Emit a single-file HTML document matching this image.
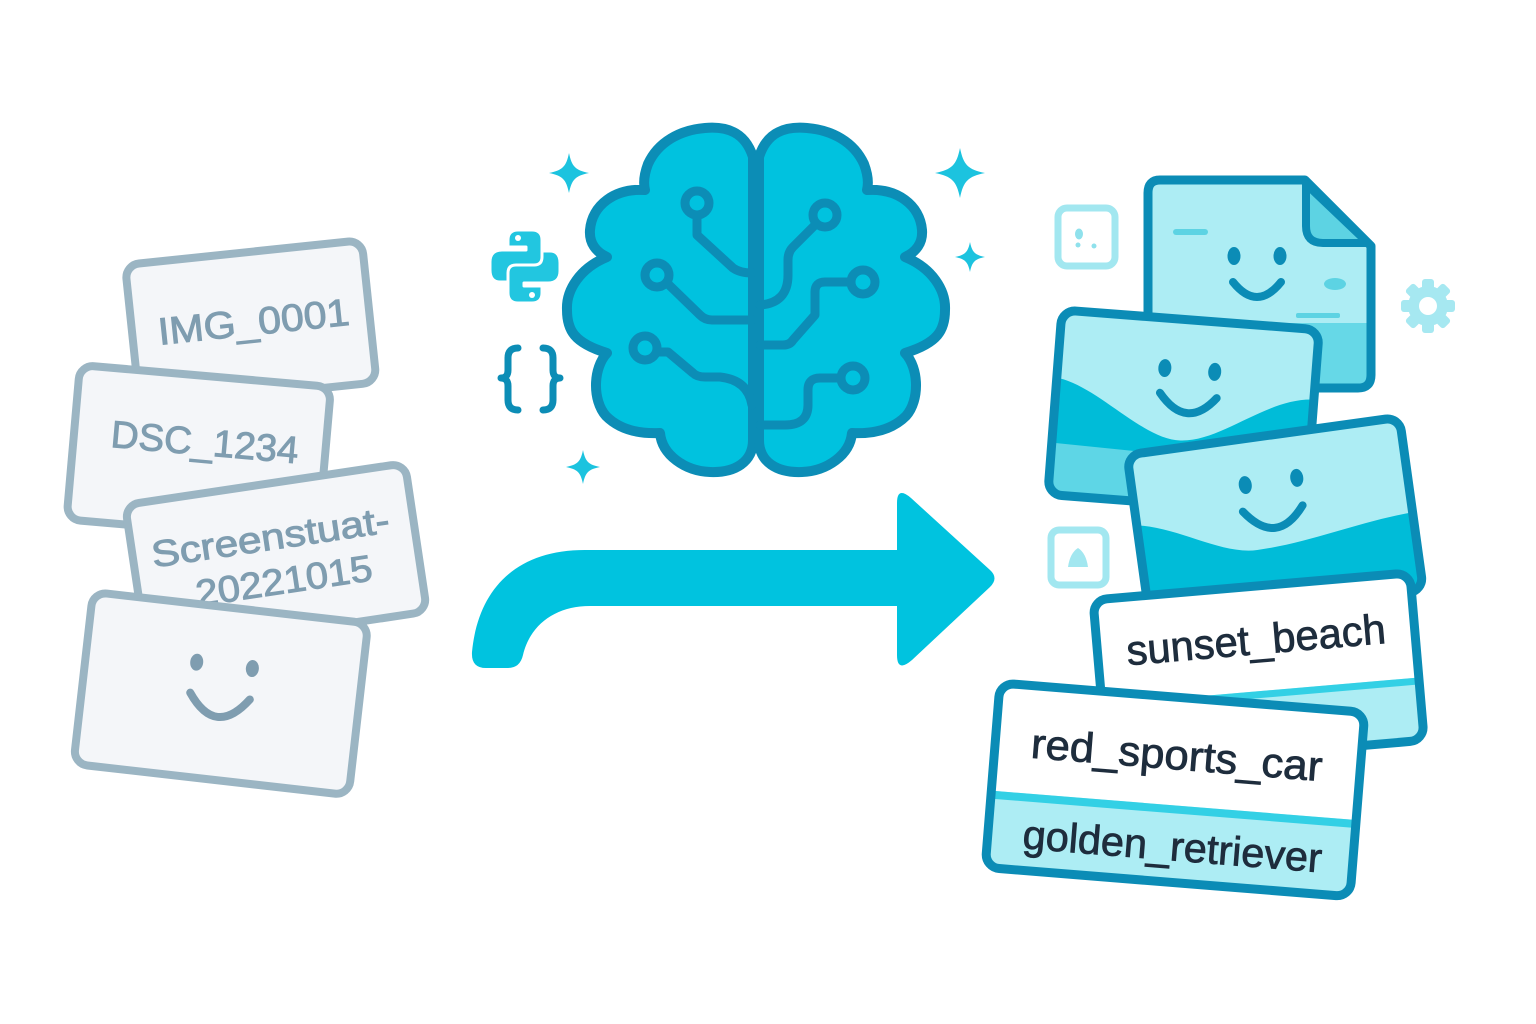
<!DOCTYPE html>
<html><head><meta charset="utf-8"><style>
html,body{margin:0;padding:0;background:#fff;}
svg{display:block;}
text{font-family:"Liberation Sans","DejaVu Sans",sans-serif;}
</style></head><body>
<svg width="1536" height="1024" viewBox="0 0 1536 1024" xmlns="http://www.w3.org/2000/svg">
<rect width="1536" height="1024" fill="#ffffff"/>

<!-- LEFT CARDS -->
<g stroke="#9bb5c3" stroke-width="8" fill="#f4f6f9">
  <g transform="translate(125,265) rotate(-6)">
    <rect x="0" y="0" width="238" height="143" rx="14"/>
    <text x="122" y="83" font-size="38" text-anchor="middle" fill="#7f9db0" stroke="#7f9db0" stroke-width="1" textLength="192" lengthAdjust="spacingAndGlyphs">IMG_0001</text>
  </g>
  <g transform="translate(80,365) rotate(5)">
    <rect x="0" y="0" width="252" height="155" rx="14"/>
    <text x="131" y="79" font-size="38" text-anchor="middle" fill="#7f9db0" stroke="#7f9db0" stroke-width="1" textLength="188" lengthAdjust="spacingAndGlyphs">DSC_1234</text>
  </g>
  <g transform="translate(125,505) rotate(-8.5)">
    <rect x="0" y="0" width="283" height="150" rx="14"/>
    <text x="139" y="66" font-size="37" text-anchor="middle" fill="#7f9db0" stroke="#7f9db0" stroke-width="1" textLength="240" lengthAdjust="spacingAndGlyphs">Screenstuat-</text>
    <text x="146" y="111" font-size="37" text-anchor="middle" fill="#7f9db0" stroke="#7f9db0" stroke-width="1" textLength="178" lengthAdjust="spacingAndGlyphs">20221015</text>
  </g>
  <g transform="translate(93,592) rotate(6.5)">
    <rect x="0" y="0" width="277" height="173" rx="14"/>
    <ellipse cx="111" cy="58" rx="6.5" ry="8.5" fill="#7f9db0" stroke="none"/>
    <ellipse cx="167" cy="58" rx="6.5" ry="8.5" fill="#7f9db0" stroke="none"/>
    <path d="M108,89 Q138,131 168,89" fill="none" stroke="#7f9db0" stroke-width="8" stroke-linecap="round"/>
  </g>
</g>

<!-- ARROW -->
<path d="M585,550 H897 V503 Q897,486 911,498 L990,570 Q999,578 990,587 L912,660 Q897,673 897,655 V606 H590 C555,606 530,625 523,655 Q520,668 508,668 H486 Q471,668 472,652 C478,590 515,550 585,550 Z" fill="#00c3df"/>

<!-- BRAIN -->
<g fill="#00c2df" stroke="#0c8db6" stroke-width="10" stroke-linejoin="round">
  <path d="M753,157 C745,132 727,126 705,128 C680,130 658,142 648,164 C645,172 643,182 645,190 C615,188 592,205 590,230 C589,243 596,252 607,257 C580,268 566,290 567,310 C567,330 574,343 607,353 C593,368 592,400 606,416 C620,430 640,434 660,433 C662,455 685,471 710,472 C735,473 753,462 753,440 Z"/>
  <path transform="translate(1512,0) scale(-1,1)" d="M753,157 C745,132 727,126 705,128 C680,130 658,142 648,164 C645,172 643,182 645,190 C615,188 592,205 590,230 C589,243 596,252 607,257 C580,268 566,290 567,310 C567,330 574,343 607,353 C593,368 592,400 606,416 C620,430 640,434 660,433 C662,455 685,471 710,472 C735,473 753,462 753,440 Z"/>
</g>
<g fill="none" stroke="#0c8db6" stroke-width="9" stroke-linecap="round" stroke-linejoin="round">
  <path d="M697,215 V235 L733,268 Q740,273 752,273"/>
  <path d="M667,283 L700,315 Q705,320 712,320 H752"/>
  <path d="M657,352 H668 L693,373 Q697,377 705,377 H720 Q748,380 752,405"/>
  <path d="M816,224 L793,247 Q788,252 788,260 V275 Q788,303 760,305"/>
  <path d="M851,282 H825 Q815,282 815,292 V315 L793,340 Q790,345 783,345 H760"/>
  <path d="M841,378 H820 Q808,378 808,390 V405 Q808,425 785,425 H760"/>
</g>
<g fill="#00c2df" stroke="#0c8db6" stroke-width="9">
  <circle cx="697" cy="203" r="12"/>
  <circle cx="657" cy="275" r="12"/>
  <circle cx="645" cy="348" r="12"/>
  <circle cx="825" cy="215" r="12"/>
  <circle cx="863" cy="282" r="12"/>
  <circle cx="853" cy="378" r="12"/>
</g>

<!-- SPARKLES -->
<g fill="#1cc3df">
  <path transform="translate(569,173) scale(20)" d="M0,-1 C0.14,-0.32 0.32,-0.14 1,0 C0.32,0.14 0.14,0.32 0,1 C-0.14,0.32 -0.32,0.14 -1,0 C-0.32,-0.14 -0.14,-0.32 0,-1Z"/>
  <path transform="translate(960,173) scale(25)" d="M0,-1 C0.14,-0.32 0.32,-0.14 1,0 C0.32,0.14 0.14,0.32 0,1 C-0.14,0.32 -0.32,0.14 -1,0 C-0.32,-0.14 -0.14,-0.32 0,-1Z"/>
  <path transform="translate(970,257) scale(15)" d="M0,-1 C0.14,-0.32 0.32,-0.14 1,0 C0.32,0.14 0.14,0.32 0,1 C-0.14,0.32 -0.32,0.14 -1,0 C-0.32,-0.14 -0.14,-0.32 0,-1Z"/>
  <path transform="translate(583,467) scale(17)" d="M0,-1 C0.14,-0.32 0.32,-0.14 1,0 C0.32,0.14 0.14,0.32 0,1 C-0.14,0.32 -0.32,0.14 -1,0 C-0.32,-0.14 -0.14,-0.32 0,-1Z"/>
</g>

<!-- PYTHON LOGO -->
<g transform="translate(490,230)" fill="#22c6e0" stroke="#ffffff" stroke-width="3" stroke-linejoin="round">
  <path d="M28,0 H42 Q52,0 52,10 V30 Q52,38 44,38 H26 Q18,38 18,46 V52 H10 Q0,52 0,40 V32 Q0,20 12,20 H36 V17 H18 V10 Q18,0 28,0 Z"/>
  <path transform="rotate(180 35 36.5)" d="M28,0 H42 Q52,0 52,10 V30 Q52,38 44,38 H26 Q18,38 18,46 V52 H10 Q0,52 0,40 V32 Q0,20 12,20 H36 V17 H18 V10 Q18,0 28,0 Z"/>
  <circle cx="28" cy="8" r="3" fill="#fff" stroke="none"/>
  <circle cx="42" cy="65" r="3" fill="#fff" stroke="none"/>
</g>

<!-- BRACES -->
<g fill="none" stroke="#0c8db6" stroke-width="7" stroke-linecap="round" stroke-linejoin="round">
  <path d="M518,348 Q508,348 508,358 V370 Q508,378 501,378 Q508,378 508,386 V400 Q508,410 518,410"/>
  <path d="M543,348 Q553,348 553,358 V370 Q553,378 560,378 Q553,378 553,386 V400 Q553,410 543,410"/>
</g>

<!-- SMALL ICONS RIGHT -->
<rect x="1058" y="208" width="57" height="58" rx="9" fill="#fff" stroke="#a2e7f0" stroke-width="7"/>
<ellipse cx="1079" cy="234" rx="4" ry="5.5" fill="#8fe1ec"/>
<circle cx="1078" cy="245" r="2.5" fill="#8fe1ec"/>
<circle cx="1094" cy="246" r="2.5" fill="#8fe1ec"/>

<rect x="1051" y="530" width="55" height="55" rx="8" fill="#fff" stroke="#a2e7f0" stroke-width="7"/>
<path d="M1068,567 Q1070,553 1078,548 Q1086,553 1088,567 Z" fill="#a2e7f0"/>

<g transform="translate(1428,306)" fill="#a6e8f1">
  <circle r="20"/>
  <rect x="-6" y="-27" width="12" height="12" rx="3"/>
  <rect x="-6" y="-27" width="12" height="12" rx="3" transform="rotate(45)"/>
  <rect x="-6" y="-27" width="12" height="12" rx="3" transform="rotate(90)"/>
  <rect x="-6" y="-27" width="12" height="12" rx="3" transform="rotate(135)"/>
  <rect x="-6" y="-27" width="12" height="12" rx="3" transform="rotate(180)"/>
  <rect x="-6" y="-27" width="12" height="12" rx="3" transform="rotate(225)"/>
  <rect x="-6" y="-27" width="12" height="12" rx="3" transform="rotate(270)"/>
  <rect x="-6" y="-27" width="12" height="12" rx="3" transform="rotate(315)"/>
  <circle r="9" fill="#fff"/>
</g>

<!-- DOC CARD -->
<path d="M1160,180 H1305 L1371,246 V375 Q1371,388 1358,388 H1160 Q1148,388 1148,375 V193 Q1148,180 1160,180 Z" fill="#adedf4"/>
<path d="M1149,323 H1370 V375 Q1370,386 1358,386 H1160 Q1149,386 1149,375 Z" fill="#66d8e7"/>
<rect x="1173" y="229" width="35" height="6" rx="3" fill="#5dd3e3"/>
<ellipse cx="1335" cy="284" rx="11" ry="6" fill="#5dd3e3"/>
<rect x="1296" y="313" width="44" height="5" rx="2" fill="#5dd3e3"/>
<path d="M1160,180 H1305 L1371,246 V375 Q1371,388 1358,388 H1160 Q1148,388 1148,375 V193 Q1148,180 1160,180 Z" fill="none" stroke="#0b8cb6" stroke-width="9" stroke-linejoin="round"/>
<path d="M1306,184 V226 Q1306,243 1323,243 H1368 Z" fill="#5dd3e3" stroke="#0b8cb6" stroke-width="8" stroke-linejoin="round"/>
<ellipse cx="1234" cy="256" rx="6.5" ry="9" fill="#0b8cb6"/>
<ellipse cx="1280" cy="256" rx="6.5" ry="9" fill="#0b8cb6"/>
<path d="M1233,282 Q1257,312 1281,282" fill="none" stroke="#0b8cb6" stroke-width="8" stroke-linecap="round"/>

<defs>
  <clipPath id="cA"><rect x="0" y="0" width="258" height="185" rx="14"/></clipPath>
  <clipPath id="cB"><rect x="0" y="0" width="275" height="175" rx="14"/></clipPath>
  <clipPath id="cS"><rect x="0" y="0" width="318" height="168" rx="14"/></clipPath>
  <clipPath id="cR"><rect x="0" y="0" width="366" height="185" rx="14"/></clipPath>
</defs>

<!-- CARD A -->
<g transform="translate(1062,310) rotate(4.4)">
  <g clip-path="url(#cA)">
    <rect x="0" y="0" width="258" height="185" fill="#adedf4"/>
    <path d="M0,68 C40,72 90,123 128,121 C170,119 210,72 258,70 V185 H0 Z" fill="#00bcd8"/>
    <path d="M0,133 L120,136 L258,150 V185 H0 Z" fill="#5ed6e6"/>
  </g>
  <rect x="0" y="0" width="258" height="185" rx="14" fill="none" stroke="#0b8cb6" stroke-width="9"/>
  <ellipse cx="107" cy="50" rx="6.5" ry="9" fill="#0b8cb6"/>
  <ellipse cx="157" cy="50" rx="6.5" ry="9" fill="#0b8cb6"/>
  <path d="M104,75 Q133,111 161,76" fill="none" stroke="#0b8cb6" stroke-width="8" stroke-linecap="round"/>
</g>

<!-- CARD B -->
<g transform="translate(1127,455) rotate(-7.9)">
  <g clip-path="url(#cB)">
    <rect x="0" y="0" width="275" height="175" fill="#adedf4"/>
    <path d="M0,71 C40,78 80,112 116,112 C170,112 220,98 275,96 V175 H0 Z" fill="#00bcd8"/>
  </g>
  <rect x="0" y="0" width="275" height="175" rx="14" fill="none" stroke="#0b8cb6" stroke-width="9"/>
  <ellipse cx="113" cy="46" rx="6.5" ry="9" fill="#0b8cb6"/>
  <ellipse cx="165" cy="46" rx="6.5" ry="9" fill="#0b8cb6"/>
  <path d="M107,72 Q136,112 167,74" fill="none" stroke="#0b8cb6" stroke-width="8" stroke-linecap="round"/>
</g>

<!-- SUNSET CARD -->
<g transform="translate(1093,600) rotate(-4.9)">
  <g clip-path="url(#cS)">
    <rect x="0" y="0" width="318" height="168" fill="#ffffff"/>
    <rect x="0" y="105" width="318" height="63" fill="#adedf4"/>
    <rect x="0" y="105" width="318" height="7" fill="#33d0e5"/>
  </g>
  <rect x="0" y="0" width="318" height="168" rx="14" fill="none" stroke="#0b8cb6" stroke-width="9"/>
  <text x="159" y="68" font-size="42" text-anchor="middle" fill="#1e2d3d" stroke="#1e2d3d" stroke-width="0.8" textLength="260" lengthAdjust="spacingAndGlyphs">sunset_beach</text>
</g>

<!-- RED CARD -->
<g transform="translate(1000,683) rotate(4.6)">
  <g clip-path="url(#cR)">
    <rect x="0" y="0" width="366" height="185" fill="#ffffff"/>
    <rect x="0" y="108" width="366" height="77" fill="#adedf4"/>
    <rect x="0" y="108" width="366" height="8" fill="#33d0e5"/>
  </g>
  <rect x="0" y="0" width="366" height="185" rx="14" fill="none" stroke="#0b8cb6" stroke-width="9"/>
  <text x="182" y="72" font-size="42" text-anchor="middle" fill="#1e2d3d" stroke="#1e2d3d" stroke-width="0.8" textLength="292" lengthAdjust="spacingAndGlyphs">red_sports_car</text>
  <text x="185" y="163" font-size="41" text-anchor="middle" fill="#1e2d3d" stroke="#1e2d3d" stroke-width="0.8" textLength="300" lengthAdjust="spacingAndGlyphs">golden_retriever</text>
</g>

</svg>
</body></html>
